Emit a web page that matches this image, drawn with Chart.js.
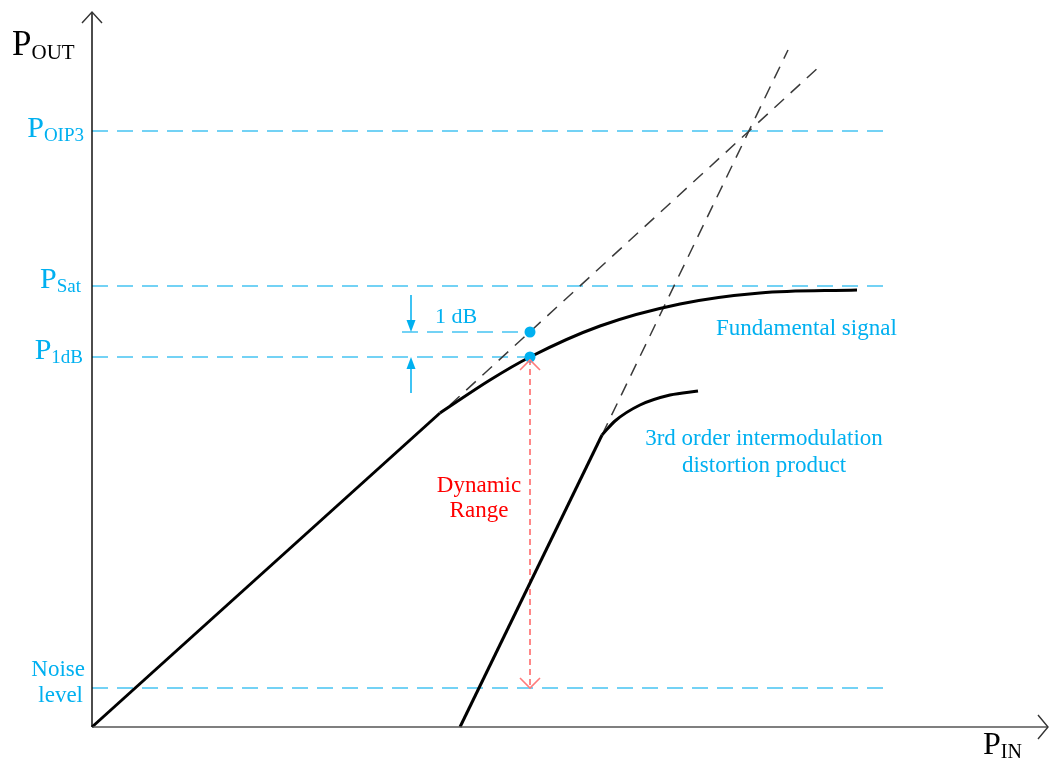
<!DOCTYPE html>
<html>
<head>
<meta charset="utf-8">
<script src="https://cdn.jsdelivr.net/npm/chart.js@4.4.1/dist/chart.umd.min.js"></script>
<style>
  html, body { margin: 0; padding: 0; background: #ffffff; }
  #wrap { width: 1054px; height: 760px; }
</style>
</head>
<body>
<div id="wrap"><canvas id="c" width="1054" height="760"></canvas></div>
<script>
// ---- Data (arbitrary power units) ----
const fundamentalLinearIn  = [0, 34.8];
const fundamentalLinearOut = [0, 31.4];
const fundamentalCurveIn   = [34.8, 39.8, 43.8, 50.8, 58.8, 66.8, 76.5];
const fundamentalCurveOut  = [31.4, 34.7, 37.0, 40.1, 42.3, 43.4, 43.7];
const fundamentalExtIn     = [35.8, 72.8];
const fundamentalExtOut    = [32.2, 66.1];

const im3LinearIn  = [36.8, 51.0];
const im3LinearOut = [0, 29.2];
const im3CurveIn   = [51.0, 52.3, 54.8, 57.8, 60.6];
const im3CurveOut  = [29.2, 30.6, 32.2, 33.2, 33.6];
const im3ExtIn     = [51.0, 69.6];
const im3ExtOut    = [29.2, 67.7];

const levelNames  = ['OIP3', 'Sat', '1dB', 'Noise'];
const levelValues = [59.6, 44.1, 37.0, 3.9];
const levelEnds   = [79.8, 79.8, 43.8, 79.8];

const oneDbLevel    = 39.5;
const oneDbStart    = 31.0;
const p1dbInput     = 43.8;
const arrowX        = 31.9;
const arrowDownTop  = 43.2;
const arrowUpBottom = 33.4;

const xMax = 95.6, yMax = 71.5;

// ---- helpers ----
const pts = (xs, ys) => xs.map((x, i) => ({ x: x, y: ys[i] }));
const BLUE = '#00B0F0';
const BLUE_LINE = '#45C4F2';
const RED = '#FF0000';
const RED_LINE = '#FF7B7B';
const SERIF = '"Liberation Serif", "Times New Roman", serif';

const solid = (data, mono) => ({
  data, showLine: true, borderColor: '#000', borderWidth: 3, pointRadius: 0,
  cubicInterpolationMode: mono ? 'monotone' : 'default', tension: 0, clip: false, order: 2
});
const greyDash = (data) => ({
  data, showLine: true, borderColor: '#3a3a3a', borderWidth: 1.5, borderDash: [13, 9],
  pointRadius: 0, tension: 0, clip: false, order: 4
});
const blueDash = (data) => ({
  data, showLine: true, borderColor: BLUE_LINE, borderWidth: 1.5, borderDash: [16, 9],
  pointRadius: 0, tension: 0, clip: false, order: 5
});

const datasets = [];
levelValues.forEach((v, i) => datasets.push(blueDash(pts([0, levelEnds[i]], [v, v]))));
datasets.push(blueDash(pts([oneDbStart, p1dbInput], [oneDbLevel, oneDbLevel])));
datasets.push(greyDash(pts(fundamentalExtIn, fundamentalExtOut)));
datasets.push(greyDash(pts(im3ExtIn, im3ExtOut)));
datasets.push(solid(pts(fundamentalLinearIn, fundamentalLinearOut), false));
datasets.push(solid(pts(fundamentalCurveIn, fundamentalCurveOut), true));
datasets.push(solid(pts(im3LinearIn, im3LinearOut), false));
datasets.push(solid(pts(im3CurveIn, im3CurveOut), true));
datasets.push({ data: pts([arrowX, arrowX], [arrowDownTop, oneDbLevel + 0.9]), showLine: true,
  borderColor: BLUE, borderWidth: 1.5, pointRadius: 0, clip: false, order: 3 });
datasets.push({ data: pts([arrowX, arrowX], [arrowUpBottom, levelValues[2] - 0.9]), showLine: true,
  borderColor: BLUE, borderWidth: 1.5, pointRadius: 0, clip: false, order: 3 });
datasets.push({ data: pts([p1dbInput, p1dbInput], [levelValues[2] - 0.2, levelValues[3] + 0.2]), showLine: true,
  borderColor: RED_LINE, borderWidth: 1.8, borderDash: [6, 4], pointRadius: 0, clip: false, order: 3 });
datasets.push({ data: pts([p1dbInput, p1dbInput], [oneDbLevel, levelValues[2]]), showLine: false,
  pointRadius: 5.5, pointBackgroundColor: BLUE, pointBorderWidth: 0, pointBorderColor: BLUE, clip: false, order: 0 });
datasets.push({ data: pts([0, 0], [0, yMax]), showLine: true, borderColor: '#000', borderWidth: 1.4, pointRadius: 0, clip: false, order: 1 });
datasets.push({ data: pts([0, xMax], [0, 0]), showLine: true, borderColor: '#555', borderWidth: 1.6, pointRadius: 0, clip: false, order: 1 });

const decor = {
  id: 'decor',
  afterDatasetsDraw(chart) {
    const ctx = chart.ctx;
    const xs = chart.scales.x, ys = chart.scales.y;
    const X = v => xs.getPixelForValue(v), Y = v => ys.getPixelForValue(v);
    ctx.save();
    ctx.lineWidth = 1.4;
    ctx.strokeStyle = '#333';
    ctx.beginPath();
    ctx.moveTo(X(0) - 10, Y(yMax) + 11); ctx.lineTo(X(0), Y(yMax)); ctx.lineTo(X(0) + 10, Y(yMax) + 11);
    ctx.stroke();
    ctx.beginPath();
    ctx.moveTo(X(xMax) - 10, Y(0) - 12); ctx.lineTo(X(xMax), Y(0)); ctx.lineTo(X(xMax) - 10, Y(0) + 12);
    ctx.stroke();
    ctx.fillStyle = BLUE;
    const head = (x, y, dir) => {
      ctx.beginPath();
      ctx.moveTo(x, y);
      ctx.lineTo(x - 4.5, y - dir * 12);
      ctx.lineTo(x + 4.5, y - dir * 12);
      ctx.closePath(); ctx.fill();
    };
    head(X(arrowX), Y(oneDbLevel), 1);
    head(X(arrowX), Y(levelValues[2]), -1);
    ctx.strokeStyle = RED_LINE; ctx.lineWidth = 1.6;
    const chev = (x, y, dir) => {
      ctx.beginPath();
      ctx.moveTo(x - 10, y - dir * 10); ctx.lineTo(x, y); ctx.lineTo(x + 10, y - dir * 10);
      ctx.stroke();
    };
    chev(X(p1dbInput), Y(levelValues[2]) + 3, -1);
    chev(X(p1dbInput), Y(levelValues[3]), 1);

    const sub = (main, s, anchorX, base, mSize, sSize, color, align) => {
      ctx.fillStyle = color;
      ctx.textBaseline = 'alphabetic';
      ctx.textAlign = 'left';
      ctx.font = mSize + 'px ' + SERIF;
      const wm = ctx.measureText(main).width;
      ctx.font = sSize + 'px ' + SERIF;
      const ws = ctx.measureText(s).width;
      const left = align === 'right' ? anchorX - wm - ws : anchorX;
      ctx.font = mSize + 'px ' + SERIF;
      ctx.fillText(main, left, base);
      ctx.font = sSize + 'px ' + SERIF;
      ctx.fillText(s, left + wm, base + 4);
    };
    const txt = (t, x, y, size, color, align) => {
      ctx.fillStyle = color; ctx.textAlign = align; ctx.textBaseline = 'alphabetic';
      ctx.font = size + 'px ' + SERIF;
      ctx.fillText(t, x, y);
    };
    const x0 = X(0);
    sub('P', 'OUT', x0 - 80, Y(yMax) + 43, 35, 21, '#000', 'left');
    sub('P', 'OIP3', x0 - 8, Y(levelValues[0]) + 6, 30, 19, BLUE, 'right');
    sub('P', 'Sat', x0 - 11, Y(levelValues[1]) + 2, 30, 19, BLUE, 'right');
    sub('P', '1dB', x0 - 9, Y(levelValues[2]) + 2, 30, 19, BLUE, 'right');
    txt('Noise', x0 - 7, Y(levelValues[3]) - 12, 23, BLUE, 'right');
    txt('level', x0 - 9, Y(levelValues[3]) + 14, 23, BLUE, 'right');
    sub('P', 'IN', X(xMax) - 65, Y(0) + 27, 32, 20, '#000', 'left');
    txt('1 dB', X(p1dbInput) - 95, Y(oneDbLevel) - 9, 22, BLUE, 'left');
    txt('Fundamental signal', X(fundamentalCurveIn[3]) + 116, Y(oneDbLevel) + 3, 23, BLUE, 'left');
    txt('3rd order intermodulation', X(im3CurveIn[3]) + 94, Y(im3CurveOut[0]) + 10, 23, BLUE, 'center');
    txt('distortion product', X(im3CurveIn[3]) + 94, Y(im3CurveOut[0]) + 37, 23, BLUE, 'center');
    txt('Dynamic', X(p1dbInput) - 51, Y(levelValues[2]) + 135, 23, RED, 'center');
    txt('Range', X(p1dbInput) - 51, Y(levelValues[2]) + 160, 23, RED, 'center');
    ctx.restore();
  }
};

new Chart(document.getElementById('c'), {
  type: 'scatter',
  data: { datasets },
  options: {
    responsive: false,
    animation: false,
    devicePixelRatio: 1,
    layout: { padding: { left: 92, top: 12, right: 6, bottom: 33 } },
    plugins: { legend: { display: false }, tooltip: { enabled: false } },
    scales: {
      x: { type: 'linear', min: 0, max: xMax, display: false },
      y: { type: 'linear', min: 0, max: yMax, display: false }
    }
  },
  plugins: [decor]
});
</script>
</body>
</html>
